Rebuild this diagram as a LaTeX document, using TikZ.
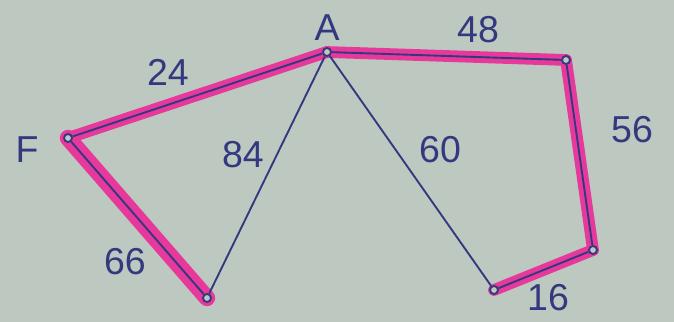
\documentclass[tikz,border=0pt]{standalone}
\usepackage{fontspec}
\setmainfont{Liberation Sans}
\usepackage{tikz}
\usetikzlibrary{positioning}
\definecolor{grPaper}{HTML}{BCC8C0}
\definecolor{grInk}{HTML}{34387E}
\definecolor{grPink}{HTML}{E6399B}
\tikzset{
  vertex/.style={circle, draw=grInk, line width=1.6pt, fill=grPaper, inner sep=0pt, minimum size=2.4mm},
  edge/.style={draw=grInk, line width=1.6pt},
  marked/.style={draw=grPink, line width=10pt, line cap=round},
  weight/.style={text=grInk, font=\fontsize{32}{32}\selectfont}
}

\begin{document}
\begin{tikzpicture}[x=0.3mm, y=-0.3mm]
\fill[grPaper] (0,0) rectangle (674,322);
\useasboundingbox (0,0) rectangle (674,322);

% vertices
\node[vertex] (a) at (327,52) {};
\node[vertex] (f) at (68,138) {};
\node[vertex] (b) at (207,298) {};
\node[vertex] (r) at (566,60) {};
\node[vertex] (c) at (593,250) {};
\node[vertex] (d) at (494,290) {};

% highlighted path
\draw[marked] (a.center) -- (f.center);
\draw[marked, line width=14pt] (f.center) -- (b.center);
\draw[marked] (a.center) -- (r.center);
\draw[marked] (r.center) -- (c.center);
\draw[marked] (c.center) -- (d.center);

% edges
\draw[edge] (a) -- (f);
\draw[edge] (f) -- (b);
\draw[edge] (a) -- (b);
\draw[edge] (a) -- (d);
\draw[edge] (a) -- (r);
\draw[edge] (r) -- (c);
\draw[edge] (c) -- (d);

% redraw vertices on top
\node[vertex] at (a) {};
\node[vertex] at (f) {};
\node[vertex] at (b) {};
\node[vertex] at (r) {};
\node[vertex] at (c) {};
\node[vertex] at (d) {};

% labels
\node[weight] (la) at (327,28) {A};
\node[weight] (lf) at (27,150) {F};
\node[weight] (w48) at (478,30) {48};
\node[weight] (w24) at (168,72) {24};
\node[weight] (w84) at (243,155) {84};
\node[weight] (w60) at (440,150) {60};
\node[weight] (w56) at (632,130) {56};
\node[weight] (w66) at (125,262) {66};
\node[weight] (w16) at (548,298) {16};
\end{tikzpicture}
\end{document}
